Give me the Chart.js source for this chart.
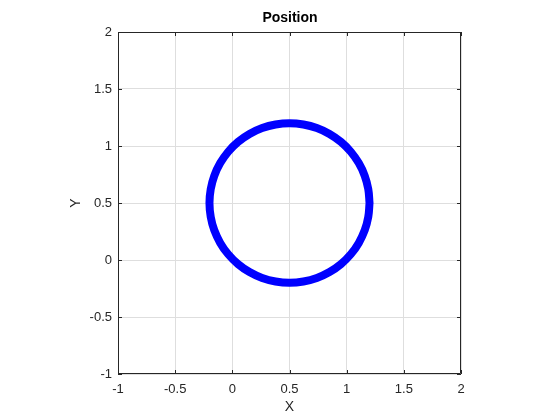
<!DOCTYPE html>
<html>
<head>
<meta charset="utf-8">
<script src="https://cdn.jsdelivr.net/npm/chart.js@4/dist/chart.umd.min.js"></script>
<style>
html,body{margin:0;padding:0;background:#fff;}
#wrap{width:560px;height:420px;}
</style>
</head>
<body>
<div id="wrap"><canvas id="c" width="560" height="420"></canvas></div>
<script>
// Position trace (circle centred at 0.5,0.5, radius ~0.7)
const posX = [1.200,1.189,1.158,1.106,1.036,0.950,0.850,0.739,0.622,0.500,0.378,0.261,0.150,0.050,-0.036,-0.106,-0.158,-0.189,-0.200,-0.189,-0.158,-0.106,-0.036,0.050,0.150,0.261,0.378,0.500,0.622,0.739,0.850,0.950,1.036,1.106,1.158,1.189,1.200];
const posY = [0.500,0.622,0.739,0.850,0.950,1.036,1.106,1.158,1.189,1.200,1.189,1.158,1.106,1.036,0.950,0.850,0.739,0.622,0.500,0.378,0.261,0.150,0.050,-0.036,-0.106,-0.158,-0.189,-0.200,-0.189,-0.158,-0.106,-0.036,0.050,0.150,0.261,0.378,0.500];
const xTicks = [-1,-0.5,0,0.5,1,1.5,2];
const yTicks = [-1,-0.5,0,0.5,1,1.5,2];
const titleText = 'Position';
const xLabel = 'X';
const yLabel = 'Y';

const points = posX.map((x,i)=>({x:x,y:posY[i]}));
const FONT = 'Liberation Sans, Arial, Helvetica, sans-serif';
const TXT = '#262626';

const framePlugin = {
  id:'frame',
  afterDraw(chart){
    const {ctx, chartArea:a, scales} = chart;
    ctx.save();
    ctx.strokeStyle = TXT;
    ctx.lineWidth = 1;
    ctx.beginPath();
    ctx.rect(Math.round(a.left)+0.5, Math.round(a.top)+0.5, Math.round(a.right-a.left)-1, Math.round(a.bottom-a.top)-1);
    ctx.stroke();
    const L = 4;
    ctx.beginPath();
    xTicks.forEach(v=>{
      const p = Math.round(scales.x.getPixelForValue(v))+0.5;
      ctx.moveTo(p,a.bottom); ctx.lineTo(p,a.bottom-L);
      ctx.moveTo(p,a.top); ctx.lineTo(p,a.top+L);
    });
    yTicks.forEach(v=>{
      const p = Math.round(scales.y.getPixelForValue(v))+0.5;
      ctx.moveTo(a.left,p); ctx.lineTo(a.left+L,p);
      ctx.moveTo(a.right,p); ctx.lineTo(a.right-L,p);
    });
    ctx.stroke();
    ctx.restore();
  }
};

new Chart(document.getElementById('c'), {
  type:'scatter',
  data:{datasets:[{
    data:points,
    showLine:true,
    borderColor:'#0000ff',
    backgroundColor:'#0000ff',
    borderWidth:8,
    borderJoinStyle:'round',
    borderCapStyle:'round',
    pointRadius:0,
    tension:0.4,
    fill:false
  }]},
  options:{
    responsive:false,
    animation:false,
    devicePixelRatio:1,
    layout:{padding:{left:20,right:0,top:0,bottom:0}},
    plugins:{
      legend:{display:false},
      tooltip:{enabled:false},
      title:{display:true,text:titleText,color:'#000',
        font:{family:FONT,size:14,weight:'bold',lineHeight:1.2},
        padding:{top:10,bottom:5.2}}
    },
    scales:{
      x:{type:'linear',position:'bottom',min:-1,max:2,
        afterBuildTicks(s){s.ticks = xTicks.map(v=>({value:v}));},
        afterFit(s){s.height=46;},
        grid:{color:'#dedede',drawTicks:false,lineWidth:1},
        border:{display:false},
        ticks:{color:TXT,padding:8,maxRotation:0,font:{family:FONT,size:13},callback:v=>String(v)},
        title:{display:true,text:xLabel,color:TXT,font:{family:FONT,size:14,lineHeight:1.2},padding:{top:0,bottom:4}}
      },
      y:{type:'linear',position:'left',min:-1,max:2,
        afterBuildTicks(s){s.ticks = yTicks.map(v=>({value:v}));},
        afterFit(s){s.width=98;},
        grid:{color:'#dedede',drawTicks:false,lineWidth:1},
        border:{display:false},
        ticks:{color:TXT,padding:6,font:{family:FONT,size:13},callback:v=>String(v)},
        title:{display:true,text:yLabel,color:TXT,font:{family:FONT,size:14,lineHeight:1.2},padding:{top:47.6,bottom:0}}
      },
      y2:{type:'linear',position:'right',min:-1,max:2,
        afterFit(s){s.width=99;},
        grid:{display:false,drawTicks:false},
        border:{display:false},
        ticks:{display:false}
      }
    }
  },
  plugins:[framePlugin]
});
</script>
</body>
</html>
